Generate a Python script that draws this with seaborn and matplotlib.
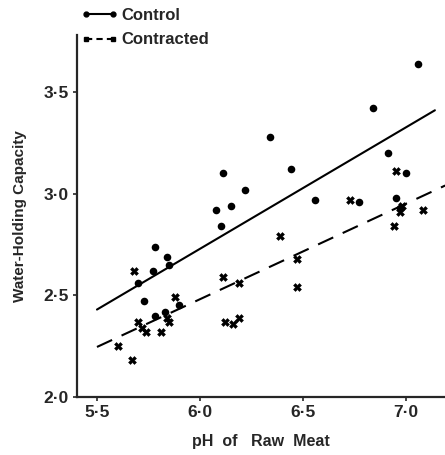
import numpy as np
import pandas as pd
import matplotlib
matplotlib.use("Agg")
import matplotlib.pyplot as plt
from matplotlib.lines import Line2D
import seaborn as sns

# pH of raw meat and water-holding capacity, control samples
control_ph = [5.70, 5.73, 5.77, 5.78, 5.78, 5.84, 5.85, 5.83, 5.90,
              6.08, 6.10, 6.11, 6.15, 6.22, 6.34, 6.44, 6.56,
              6.77, 6.84, 6.91, 6.95, 6.97, 7.00, 7.06]
control_whc = [2.56, 2.47, 2.62, 2.74, 2.40, 2.69, 2.65, 2.42, 2.45,
               2.92, 2.84, 3.10, 2.94, 3.02, 3.28, 3.12, 2.97,
               2.96, 3.42, 3.20, 2.98, 2.93, 3.10, 3.64]

# contracted samples
contracted_ph = [5.60, 5.67, 5.68, 5.70, 5.72, 5.74, 5.81, 5.84, 5.85, 5.88,
                 6.11, 6.12, 6.16, 6.19, 6.19, 6.39, 6.47, 6.47,
                 6.73, 6.94, 6.95, 6.97, 6.98, 7.08]
contracted_whc = [2.25, 2.18, 2.62, 2.37, 2.34, 2.32, 2.32, 2.39, 2.37, 2.49,
                  2.59, 2.37, 2.36, 2.39, 2.56, 2.79, 2.68, 2.54,
                  2.97, 2.84, 3.11, 2.91, 2.94, 2.92]

# fitted regression lines (end points)
control_fit_ph = [5.50, 7.14]
control_fit_whc = [2.43, 3.41]
contracted_fit_ph = [5.50, 7.19]
contracted_fit_whc = [2.246, 3.04]

x_ticks = [5.5, 6.0, 6.5, 7.0]
x_tick_labels = ["5·5", "6·0", "6·5", "7·0"]
y_ticks = [2.0, 2.5, 3.0, 3.5]
y_tick_labels = ["2·0", "2·5", "3·0", "3·5"]

sns.set_style("ticks")
plt.rcParams["font.family"] = ["Liberation Sans", "DejaVu Sans"]
plt.rcParams["font.weight"] = "bold"

fig = plt.figure(figsize=(4.45, 4.55), dpi=100)
ax = fig.add_axes([0.173, 0.1275, 0.827, 0.7955])

pts = pd.concat([
    pd.DataFrame({"ph": control_ph, "whc": control_whc, "group": "Control"}),
    pd.DataFrame({"ph": contracted_ph, "whc": contracted_whc, "group": "Contracted"}),
])
fits = pd.concat([
    pd.DataFrame({"ph": control_fit_ph, "whc": control_fit_whc, "group": "Control"}),
    pd.DataFrame({"ph": contracted_fit_ph, "whc": contracted_fit_whc, "group": "Contracted"}),
])

sns.lineplot(data=fits, x="ph", y="whc", style="group",
             dashes={"Control": "", "Contracted": (8, 5)},
             color="black", linewidth=1.5, ax=ax, legend=False)
sns.scatterplot(data=pts[pts.group == "Control"], x="ph", y="whc",
                marker="o", color="black", s=30, linewidth=0, ax=ax, legend=False)
sns.scatterplot(data=pts[pts.group == "Contracted"], x="ph", y="whc",
                marker="X", color="black", s=32, linewidth=0.4,
                edgecolor="black", ax=ax, legend=False)

ax.set_xlim(5.403, 7.189)
ax.set_ylim(2.0, 3.78)
ax.set_xticks(x_ticks)
ax.set_xticklabels(x_tick_labels, fontsize=12.5, fontweight="bold")
ax.set_yticks(y_ticks)
ax.set_yticklabels(y_tick_labels, fontsize=12.5, fontweight="bold")
ax.tick_params(length=3, width=1.2, pad=3)
for s in ("top", "right"):
    ax.spines[s].set_visible(False)
for s in ("left", "bottom"):
    ax.spines[s].set_linewidth(1.6)

ax.set_xlabel("pH  of   Raw  Meat", fontsize=11.5, fontweight="bold", labelpad=10)
ax.set_ylabel("Water-Holding Capacity", fontsize=11, fontweight="bold", labelpad=12)

handles = [
    Line2D([], [], color="black", ls="-", lw=1.5, marker="o", markersize=3.5),
    Line2D([], [], color="black", ls=(0, (3, 2)), lw=1.5, marker="s", markersize=3.5),
]
fig.legend(handles, ["Control", "Contracted"], loc="upper left",
           bbox_to_anchor=(0.148, 1.015), frameon=False, numpoints=2,
           handlelength=2.2, handletextpad=0.25, labelspacing=0.55,
           prop={"weight": "bold", "size": 12})

fig.savefig("out.png", dpi=100)
